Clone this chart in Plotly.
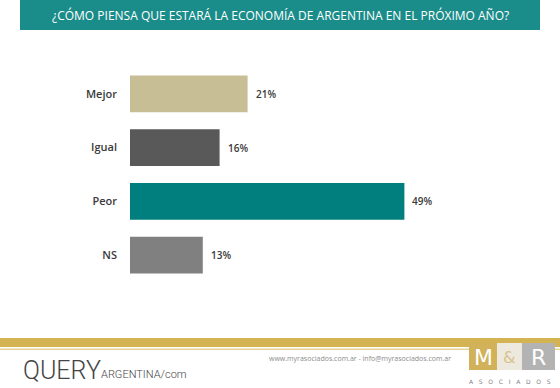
import plotly.graph_objects as go

categories = ["Mejor", "Igual", "Peor", "NS"]
values = [21, 16, 49, 13]
value_labels = ["21%", "16%", "49%", "13%"]
bar_colors = ["#C8BE96", "#595959", "#007F7E", "#808080"]
title_text = "¿CÓMO PIENSA QUE ESTARÁ LA ECONOMÍA DE ARGENTINA EN EL PRÓXIMO AÑO?"

W, H = 560, 388
L, R, T, B = 130, 94, 67, 106
PW, PH = W - L - R, H - T - B

def px_x(x):
    return (x - L) / PW

def px_y(y):
    return (H - B - y) / PH

fig = go.Figure()
fig.add_trace(go.Bar(
    y=categories, x=values, orientation="h",
    marker=dict(color=bar_colors, line=dict(width=0)),
    hoverinfo="skip",
))

fig.update_layout(
    width=W, height=H,
    margin=dict(l=L, r=R, t=T, b=B),
    paper_bgcolor="#FFFFFF", plot_bgcolor="#FFFFFF",
    showlegend=False,
    bargap=0.32,
    xaxis=dict(range=[0, 60], visible=False, fixedrange=True),
    yaxis=dict(autorange="reversed", showgrid=False, zeroline=False, showline=False,
               ticks="", ticklabelstandoff=12, automargin=False, fixedrange=True,
               tickfont=dict(family="Open Sans", size=11, color="#3A3A3A", weight=600)),
)

for c, v, t in zip(categories, values, value_labels):
    fig.add_annotation(x=v, y=c, xref="x", yref="y", text=t, showarrow=False,
                       xanchor="left", xshift=6,
                       font=dict(family="Open Sans", size=10, color="#3A3A3A", weight=600))

def rect(x0, x1, y0, y1, color):
    fig.add_shape(type="rect", xref="paper", yref="paper", layer="below",
                  x0=px_x(x0), x1=px_x(x1), y0=px_y(y1), y1=px_y(y0),
                  fillcolor=color, line=dict(width=0))

rect(20, 540, 0, 30, "#1A8C8A")          # title banner
rect(0, 560, 338, 347, "#D3B352")        # gold footer line
rect(0, 560, 348.5, 350, "#E6D497")
rect(469, 497, 343, 370, "#D1B15A")      # M&R logo
rect(497, 522, 343, 370, "#EDE9DF")
rect(522, 555, 343, 370, "#B3B3B3")

def ann(text, x, y, xanchor, size, color, family="Open Sans", weight=400):
    fig.add_annotation(text=text, xref="paper", yref="paper", x=px_x(x), y=px_y(y),
                       xanchor=xanchor, yanchor="middle", showarrow=False,
                       font=dict(family=family, size=size, color=color, weight=weight))

ann(title_text, 280, 15, "center", 12, "#FFFFFF")
ann("www.myrasociados.com.ar - info@myrasociados.com.ar", 453, 358, "right", 7, "#8C8C8C")
ann("QUERY", 21, 370, "left", 25, "#444444", "Roboto", 300)
ann("ARGENTINA/com", 99, 374, "left", 11, "#444444", "Roboto", 300)
ann("M", 483, 357, "center", 22, "#FFFFFF", "DejaVu Sans")
ann("&amp;", 509, 357, "center", 16, "#D9C38A", "DejaVu Sans")
ann("R", 538, 357, "center", 22, "#FFFFFF", "DejaVu Sans")
ann("A   S   O   C   I   A   D   O   S", 510, 381, "center", 6, "#808080", "DejaVu Sans")

fig.write_html("out.html", config={"displayModeBar": False},
               post_script="document.body.style.margin='0';")
